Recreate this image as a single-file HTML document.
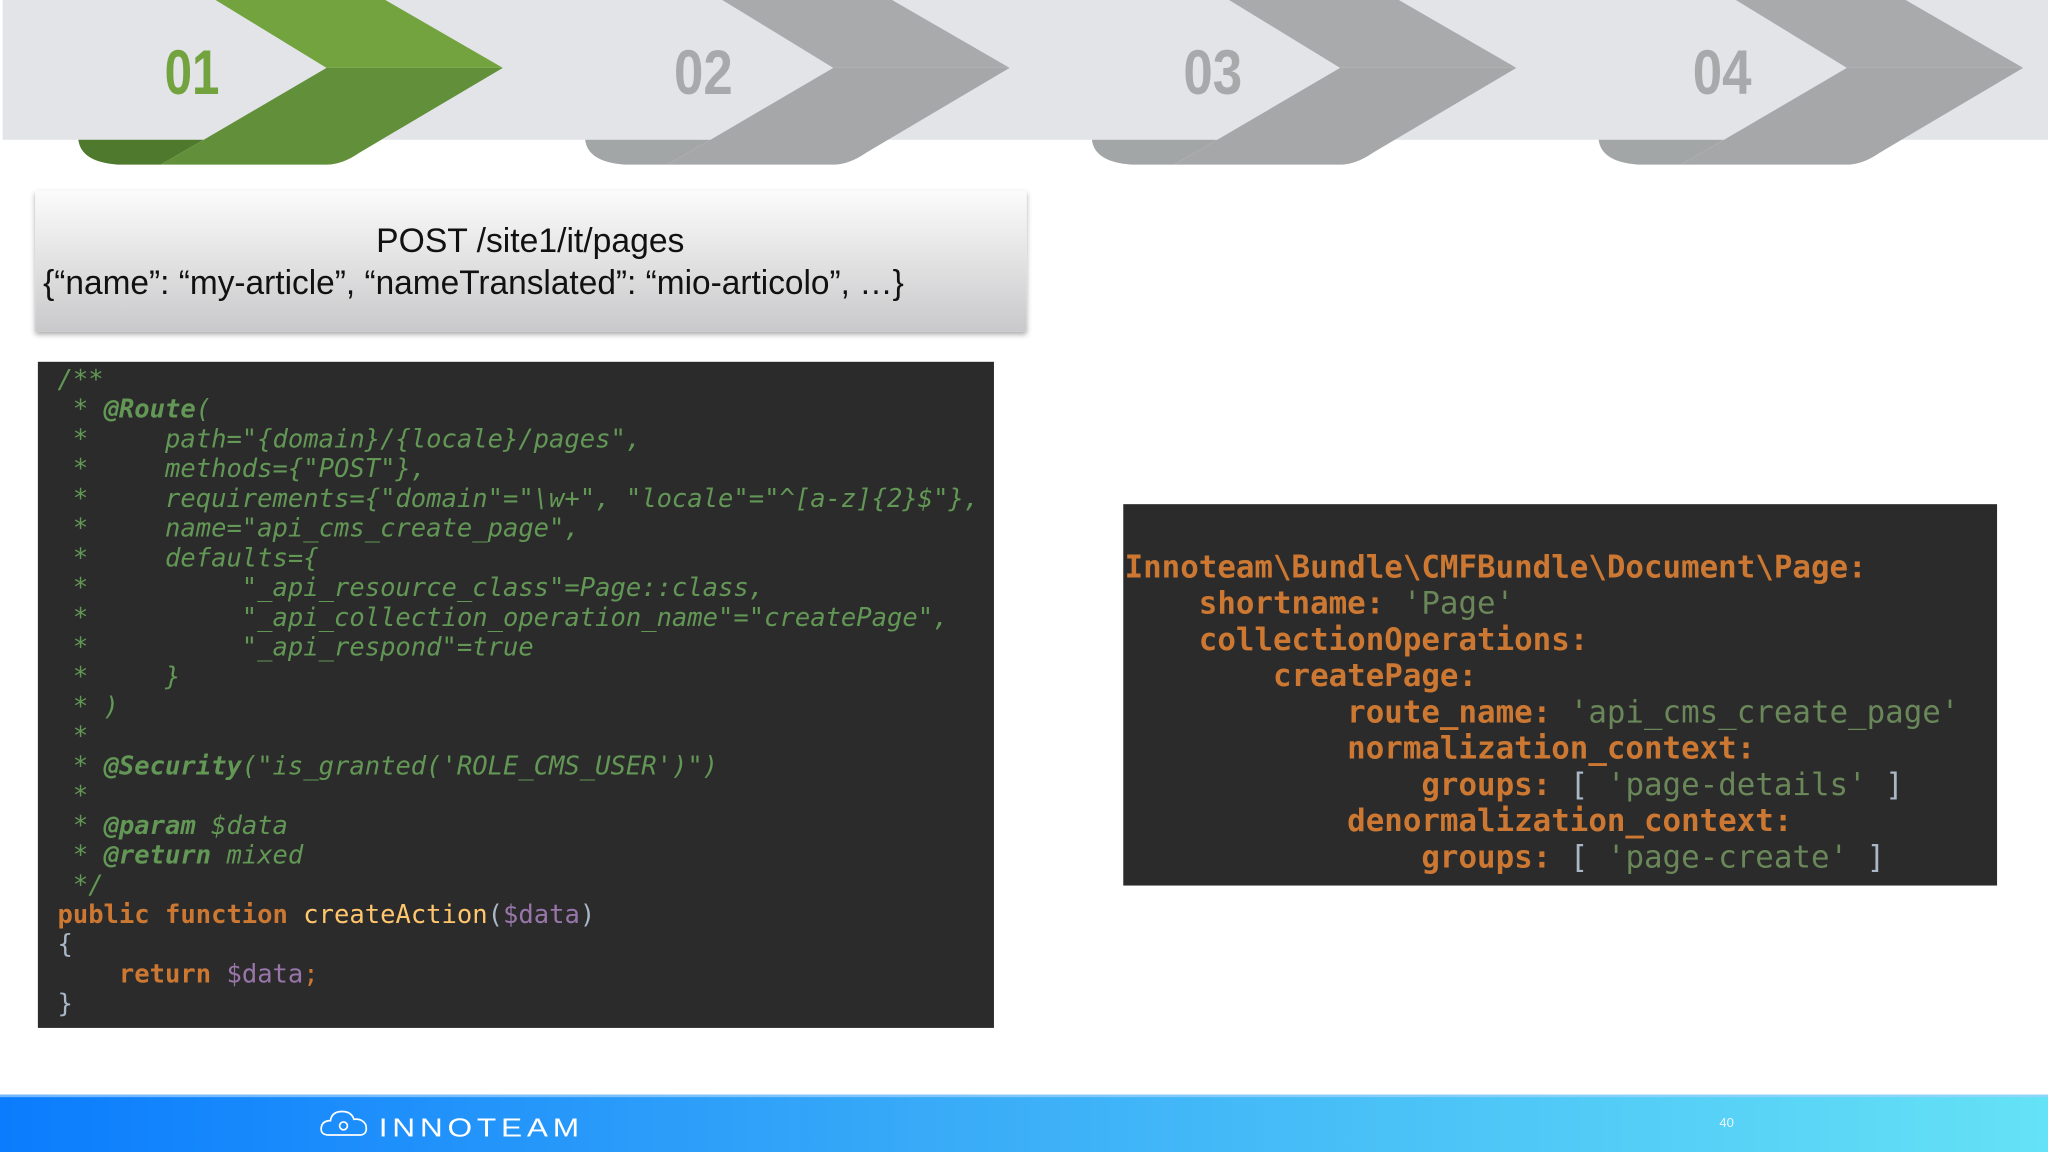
<!DOCTYPE html>
<html><head><meta charset="utf-8"><style>
html,body{margin:0;padding:0;background:#fff;width:2048px;height:1152px;overflow:hidden}
svg{display:block}
.c{font-family:"DejaVu Sans Mono","Liberation Mono",monospace;font-size:19.55px;white-space:pre}
.y{font-family:"DejaVu Sans Mono","Liberation Mono",monospace;font-size:23.6px;white-space:pre}
</style></head><body>
<svg width="2048" height="1152" viewBox="0 0 1568 882" xmlns="http://www.w3.org/2000/svg" xml:space="preserve">
<defs>
<linearGradient id="pg" x1="0" y1="0" x2="0" y2="1"><stop offset="0" stop-color="#fbfbfb"/><stop offset="1" stop-color="#c9c9cb"/></linearGradient>
<linearGradient id="ft" x1="0" y1="0" x2="1" y2="0"><stop offset="0" stop-color="#0b7cfd"/><stop offset="0.45" stop-color="#38aaf8"/><stop offset="1" stop-color="#64e2f6"/></linearGradient>
<filter id="sh" x="-5%" y="-20%" width="110%" height="150%"><feDropShadow dx="0" dy="2" stdDeviation="2" flood-color="#000" flood-opacity="0.35"/></filter>
</defs>
<rect x="2" y="0" width="1566" height="107" fill="#e2e4e8"/>
<g>
<path d="M60,107 L156,107 L123,126 L90,126 Q62,124 60,107 Z" fill="#4f7a2e"/>
<path d="M250,52 L385,52 L275,117 Q262,126 250,126 L123,126 L156,107 Z" fill="#62903a"/>
<path d="M165,0 L295,0 L385,52 L250,52 Z" fill="#72a33f"/>
</g>
<g transform="translate(388,0)">
<path d="M60,107 L156,107 L123,126 L90,126 Q62,124 60,107 Z" fill="#a3a6a7"/>
<path d="M250,52 L385,52 L275,117 Q262,126 250,126 L123,126 L156,107 Z" fill="#a6a7a9"/>
<path d="M165,0 L295,0 L385,52 L250,52 Z" fill="#a9aaac"/>
</g>
<g transform="translate(776,0)">
<path d="M60,107 L156,107 L123,126 L90,126 Q62,124 60,107 Z" fill="#a3a6a7"/>
<path d="M250,52 L385,52 L275,117 Q262,126 250,126 L123,126 L156,107 Z" fill="#a6a7a9"/>
<path d="M165,0 L295,0 L385,52 L250,52 Z" fill="#a9aaac"/>
</g>
<g transform="translate(1164,0)">
<path d="M60,107 L156,107 L123,126 L90,126 Q62,124 60,107 Z" fill="#a3a6a7"/>
<path d="M250,52 L385,52 L275,117 Q262,126 250,126 L123,126 L156,107 Z" fill="#a6a7a9"/>
<path d="M165,0 L295,0 L385,52 L250,52 Z" fill="#a9aaac"/>
</g>
<g font-family="'Liberation Sans Narrow','Liberation Sans',sans-serif" font-weight="bold" font-size="48">
<text x="126" y="72" fill="#72a33f" textLength="42" lengthAdjust="spacingAndGlyphs">01</text>
<text x="516" y="72" fill="#a8a9ab" textLength="45" lengthAdjust="spacingAndGlyphs">02</text>
<text x="906" y="72" fill="#a8a9ab" textLength="45" lengthAdjust="spacingAndGlyphs">03</text>
<text x="1296" y="72" fill="#a8a9ab" textLength="45" lengthAdjust="spacingAndGlyphs">04</text>
</g>
<rect x="27" y="146" width="759" height="108" fill="url(#pg)" filter="url(#sh)"/>
<g font-family="'Liberation Sans',sans-serif" font-size="26" fill="#111">
<text x="406" y="193" text-anchor="middle" textLength="236" lengthAdjust="spacingAndGlyphs">POST /site1/it/pages</text>
<text x="33" y="225" textLength="659" lengthAdjust="spacingAndGlyphs">{“name”: “my-article”, “nameTranslated”: “mio-articolo”, …}</text>
</g>
<rect x="29" y="277" width="732" height="510" fill="#2b2b2b"/>
<g class="c" fill="#629755" font-style="italic">
<text x="44" y="297">/**</text>
<text x="44" y="319.8">&#160;* <tspan font-weight="bold">@Route</tspan>(</text>
<text x="44" y="342.5">&#160;*&#160;&#160;&#160;&#160;&#160;path="{domain}/{locale}/pages",</text>
<text x="44" y="365.3">&#160;*&#160;&#160;&#160;&#160;&#160;methods={"POST"},</text>
<text x="44" y="388">&#160;*&#160;&#160;&#160;&#160;&#160;requirements={"domain"="\w+", "locale"="^[a-z]{2}$"},</text>
<text x="44" y="410.8">&#160;*&#160;&#160;&#160;&#160;&#160;name="api_cms_create_page",</text>
<text x="44" y="433.6">&#160;*&#160;&#160;&#160;&#160;&#160;defaults={</text>
<text x="44" y="456.3">&#160;*&#160;&#160;&#160;&#160;&#160;&#160;&#160;&#160;&#160;&#160;"_api_resource_class"=Page::class,</text>
<text x="44" y="479.1">&#160;*&#160;&#160;&#160;&#160;&#160;&#160;&#160;&#160;&#160;&#160;"_api_collection_operation_name"="createPage",</text>
<text x="44" y="501.8">&#160;*&#160;&#160;&#160;&#160;&#160;&#160;&#160;&#160;&#160;&#160;"_api_respond"=true</text>
<text x="44" y="524.6">&#160;*&#160;&#160;&#160;&#160;&#160;}</text>
<text x="44" y="547.4">&#160;* )</text>
<text x="44" y="570.1">&#160;*</text>
<text x="44" y="592.9">&#160;* <tspan font-weight="bold">@Security</tspan>("is_granted('ROLE_CMS_USER')")</text>
<text x="44" y="615.6">&#160;*</text>
<text x="44" y="638.4">&#160;* <tspan font-weight="bold">@param</tspan> $data</text>
<text x="44" y="661.2">&#160;* <tspan font-weight="bold">@return</tspan> mixed</text>
<text x="44" y="683.9">&#160;*/</text>
</g>
<g class="c" fill="#a9b7c6">
<text x="44" y="706.7"><tspan fill="#cc7832" font-weight="bold">public function</tspan> <tspan fill="#ffc66d">createAction</tspan>(<tspan fill="#9876aa">$data</tspan>)</text>
<text x="44" y="729.4">{</text>
<text x="44" y="752.2">&#160;&#160;&#160;&#160;<tspan fill="#cc7832" font-weight="bold">return</tspan> <tspan fill="#9876aa">$data</tspan><tspan fill="#cc7832">;</tspan></text>
<text x="44" y="775">}</text>
</g>
<rect x="860" y="386" width="669" height="292" fill="#2b2b2b"/>
<g class="y" fill="#cc7832" font-weight="bold">
<text x="861" y="442">Innoteam\Bundle\CMFBundle\Document\Page:</text>
<text x="861" y="469.8">&#160;&#160;&#160;&#160;shortname: <tspan font-weight="normal" fill="#6a8759">'Page'</tspan></text>
<text x="861" y="497.5">&#160;&#160;&#160;&#160;collectionOperations:</text>
<text x="861" y="525.3">&#160;&#160;&#160;&#160;&#160;&#160;&#160;&#160;createPage:</text>
<text x="861" y="553">&#160;&#160;&#160;&#160;&#160;&#160;&#160;&#160;&#160;&#160;&#160;&#160;route_name: <tspan font-weight="normal" fill="#6a8759">'api_cms_create_page'</tspan></text>
<text x="861" y="580.8">&#160;&#160;&#160;&#160;&#160;&#160;&#160;&#160;&#160;&#160;&#160;&#160;normalization_context:</text>
<text x="861" y="608.5">&#160;&#160;&#160;&#160;&#160;&#160;&#160;&#160;&#160;&#160;&#160;&#160;&#160;&#160;&#160;&#160;groups: <tspan font-weight="normal" fill="#a9b7c6">[ <tspan fill="#6a8759">'page-details'</tspan> ]</tspan></text>
<text x="861" y="636.3">&#160;&#160;&#160;&#160;&#160;&#160;&#160;&#160;&#160;&#160;&#160;&#160;denormalization_context:</text>
<text x="861" y="664">&#160;&#160;&#160;&#160;&#160;&#160;&#160;&#160;&#160;&#160;&#160;&#160;&#160;&#160;&#160;&#160;groups: <tspan font-weight="normal" fill="#a9b7c6">[ <tspan fill="#6a8759">'page-create'</tspan> ]</tspan></text>
</g>
<rect x="0" y="838" width="1568" height="44" fill="url(#ft)"/>
<rect x="0" y="838" width="1568" height="2" fill="#9fd2fb" opacity="0.7"/>
<g fill="none" stroke="#fff" stroke-width="1.3">
<path d="M252,869 Q245,869 246,863 Q247,858 253,858 Q254,851 262,851 Q269,851 271,857 Q277,856 280,861 Q282,869 275,869 Z"/>
<circle cx="263" cy="862" r="3"/>
</g>
<text x="290" y="870" font-family="'Liberation Sans',sans-serif" font-size="20" fill="#fff" letter-spacing="3" textLength="157" lengthAdjust="spacingAndGlyphs">INNOTEAM</text>
<text x="1322" y="863" font-family="'Liberation Sans',sans-serif" font-size="10" fill="#eaf6ff" text-anchor="middle">40</text>
</svg>
</body></html>
